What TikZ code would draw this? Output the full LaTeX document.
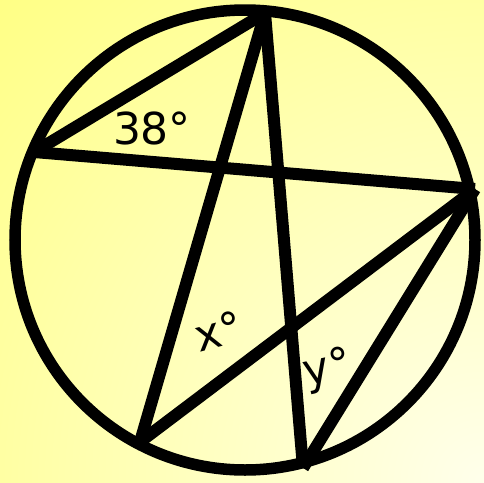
\documentclass[tikz,border=0pt]{standalone}
\usepackage{fontspec}
\setmainfont{DejaVu Sans}
\definecolor{bgyellow}{RGB}{255,255,80}
\definecolor{bgpale}{RGB}{255,255,235}
\tikzset{
  chord/.style={line width=12pt, black},
  rim/.style={line width=11.5pt, black},
  anglelabel/.style={font=\fontsize{44}{44}\selectfont, inner sep=0pt}
}
\begin{document}
\begin{tikzpicture}[x=1pt,y=-1pt]
\useasboundingbox (0,0) rectangle (484,482);
\begin{scope}
\clip (0,0) rectangle (484,482);
\shade[inner color=bgpale, outer color=bgyellow] (484,482) circle (1040);
\end{scope}
\coordinate (C) at (245,240);
\coordinate (T) at (265,13);
\coordinate (L) at (34,152);
\coordinate (R) at (475,189);
\coordinate (BL) at (140,442);
\coordinate (B) at (303,468);
\draw[rim] (C) circle (230);
\draw[chord] (L) -- (T);
\draw[chord] (L) -- (R);
\draw[chord] (T) -- (BL);
\draw[chord] (T) -- (B);
\draw[chord] (R) -- (BL);
\draw[chord] (R) -- (B);
\node[anglelabel] (a38) at (152,128) {38°};
\node[anglelabel, rotate=15] (ax) at (218,331) {x°};
\node[anglelabel, rotate=12] (ay) at (328,370) {y°};
\end{tikzpicture}
\end{document}
